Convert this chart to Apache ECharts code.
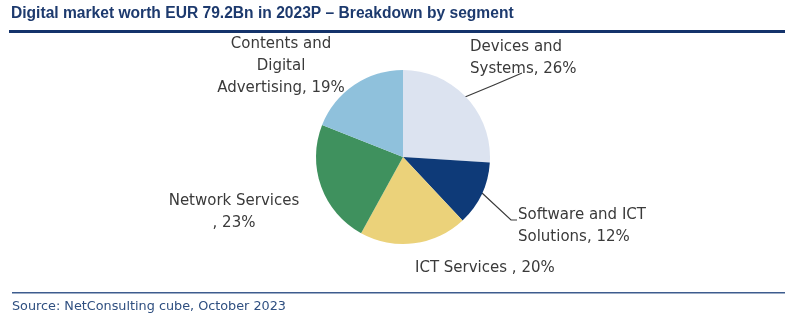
<!DOCTYPE html>
<html><head><meta charset="utf-8">
<script src="https://cdn.jsdelivr.net/npm/echarts@6/dist/echarts.min.js"></script>
<style>html,body{margin:0;padding:0;background:#fff}#c{width:785px;height:316px}</style>
</head><body><div id="c"></div>
<script>
const titleText = 'Digital market worth EUR 79.2Bn in 2023P – Breakdown by segment';
const sourceText = 'Source: NetConsulting cube, October 2023';
const categories = ['Devices and\nSystems', 'Software and ICT\nSolutions', 'ICT Services ', 'Network Services\n', 'Contents and\nDigital\nAdvertising'];
const values = [26, 12, 20, 23, 19];
const colors = ['#dce3f0', '#0e3a78', '#ebd27a', '#3f915e', '#8fc1dc'];

const labelPos = [
  {x: 470, y: 58, align: 'left', line: [[465, 97], [494, 85], [522, 73]]},
  {x: 518, y: 226, align: 'left', line: [[482, 193], [511, 220], [517, 220]]},
  {x: 415, y: 268, align: 'left'},
  {x: 234, y: 212, align: 'center'},
  {x: 281, y: 66, align: 'center'}
];
const showLine = [true, true, false, false, false];

const chart = echarts.init(document.getElementById('c'));
chart.setOption({
  animation: false,
  textStyle: {fontFamily: 'DejaVu Sans'},
  graphic: [
    {type: 'text', left: 11, top: 6, style: {text: titleText, fill: '#1d3a6e', font: 'bold 15.6px "Liberation Sans"'}},
    {type: 'rect', shape: {x: 9, y: 30, width: 776, height: 3}, style: {fill: '#14336b'}},
    {type: 'rect', shape: {x: 12, y: 292, width: 773, height: 1.5}, style: {fill: '#3d5c8e'}},
    {type: 'text', left: 12, top: 300, style: {text: sourceText, fill: '#2f4f80', font: '12.8px "DejaVu Sans"'}}
  ],
  series: [{
    type: 'pie',
    center: [403, 157],
    radius: [0, 87],
    startAngle: 90,
    clockwise: true,
    data: categories.map((c, i) => ({
      name: c, value: values[i],
      itemStyle: {color: colors[i]},
      labelLine: {show: showLine[i], lineStyle: {color: '#3a3a3a', width: 1.2}}
    })),
    label: {
      show: true,
      position: 'outside',
      formatter: p => p.name + ', ' + p.value + '%',
      color: '#3a3a3a',
      fontSize: 15,
      lineHeight: 22,
      fontFamily: 'DejaVu Sans'
    },
    labelLine: {length: 20, length2: 10},
    labelLayout: p => {
      const l = labelPos[p.dataIndex];
      const o = {x: l.x, y: l.y, align: l.align, verticalAlign: 'middle', hideOverlap: false};
      if (l.line) o.labelLinePoints = l.line;
      return o;
    }
  }]
});
</script></body></html>
